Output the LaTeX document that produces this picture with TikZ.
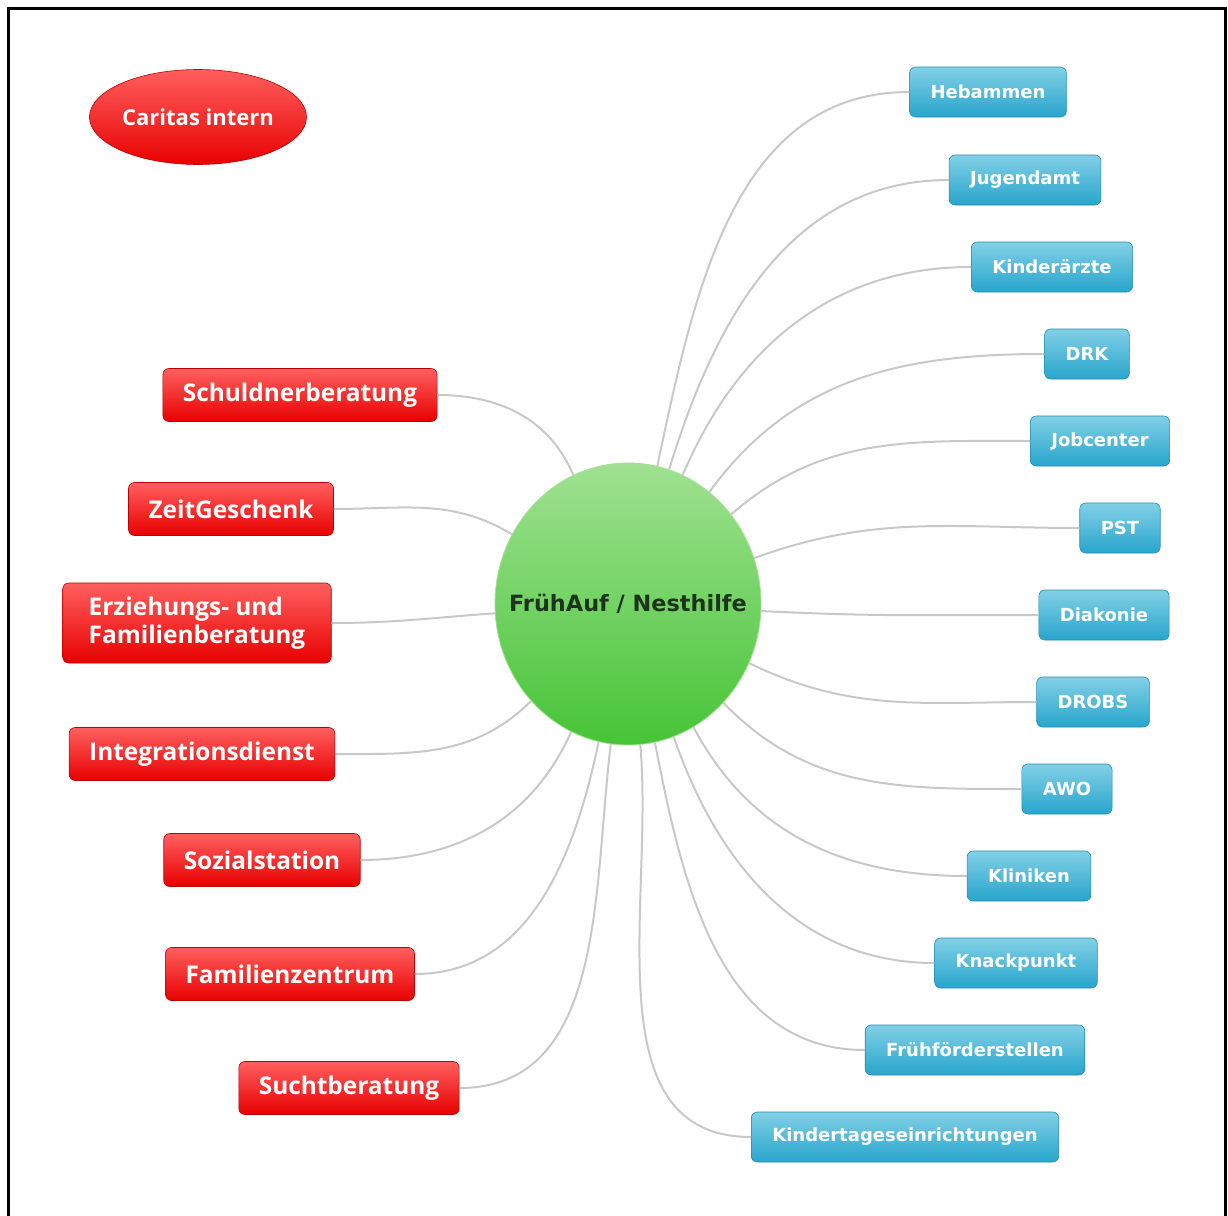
\documentclass[tikz,border=0pt]{standalone}
\usepackage{fontspec}
\usetikzlibrary{shapes.geometric}
\newfontfamily\bluefont{DejaVu Sans}
\newfontfamily\redfont{Open Sans}
\definecolor{linegray}{RGB}{200,200,200}
\definecolor{redtop}{RGB}{255,95,95}
\definecolor{redmid}{RGB}{250,10,10}
\definecolor{redbot}{RGB}{232,0,0}
\definecolor{bluetop}{RGB}{130,208,230}
\definecolor{bluemid}{RGB}{62,180,214}
\definecolor{bluebot}{RGB}{40,165,204}
\definecolor{greentop}{RGB}{160,225,145}
\definecolor{greenmid}{RGB}{88,204,70}
\definecolor{greenbot}{RGB}{70,196,55}
\definecolor{centertext}{RGB}{28,52,28}
\tikzset{
  redbox/.style={rectangle,rounded corners=3pt,top color=redtop,middle color=redmid,
    bottom color=redbot,draw=redbot!80!black,line width=0.3pt,text=white,
    font=\redfont\bfseries\fontsize{12.2}{14}\selectfont,
    inner xsep=10pt,minimum height=26.5pt,align=left},
  bluebox/.style={rectangle,rounded corners=3pt,top color=bluetop,middle color=bluemid,
    bottom color=bluebot,draw=bluebot!85!black,line width=0.3pt,text=white,
    font=\bluefont\bfseries\fontsize{9}{11}\selectfont,
    inner xsep=10.5pt,minimum height=25pt},
  hub/.style={ellipse,minimum width=133pt,minimum height=141pt,inner xsep=-30pt,inner ysep=0pt,
    top color=greentop,middle color=greenmid,bottom color=greenbot,
    draw=greentop,line width=0.4pt,text=centertext,
    font=\bluefont\bfseries\fontsize{11.2}{13}\selectfont},
  conn/.style={draw=linegray,line width=1pt}
}
\begin{document}
\begin{tikzpicture}[x=0.5pt,y=-0.5pt]
\useasboundingbox (0,0) rectangle (1228,1216);
\draw[line width=1.5pt] (8,1216) -- (8,8) -- (1225,8) -- (1225,1216);

\node(fa) at (628,604)[hub] {FrühAuf / Nesthilfe};
\node(caritas) at (198,117)[redbox,ellipse,minimum width=108.5pt,minimum height=47.5pt,
  inner sep=0pt,font=\redfont\bfseries\fontsize{11}{13}\selectfont] {Caritas intern};

% interne Dienste
\node(schuld) at (300,395)[redbox]  {Schuldnerberatung};
\node(zeit)   at (231,509)[redbox]  {ZeitGeschenk};
\node(erz)    at (197,623)[redbox,minimum height=40pt,inner xsep=13pt]
  {Erziehungs- und\\Familienberatung};
\node(integ)  at (202,754)[redbox]  {Integrationsdienst};
\node(sozial) at (262,860)[redbox]  {Sozialstation};
\node(famz)   at (290,974)[redbox]  {Familienzentrum};
\node(sucht)  at (349,1088)[redbox] {Suchtberatung};

% externe Partner
\node(heb)    at (988,92)[bluebox]    {Hebammen};
\node(jugend) at (1025,180)[bluebox]  {Jugendamt};
\node(kinder) at (1052,267)[bluebox]  {Kinderärzte};
\node(drk)    at (1087,354)[bluebox]  {DRK};
\node(job)    at (1100,441)[bluebox]  {Jobcenter};
\node(pst)    at (1120,528)[bluebox]  {PST};
\node(diak)   at (1104,615)[bluebox]  {Diakonie};
\node(drobs)  at (1093,702)[bluebox]  {DROBS};
\node(awo)    at (1067,789)[bluebox]  {AWO};
\node(klin)   at (1029,876)[bluebox]  {Kliniken};
\node(knack)  at (1016,963)[bluebox]  {Knackpunkt};
\node(ffs)    at (975,1050)[bluebox]  {Frühförderstellen};
\node(kita)   at (905,1137)[bluebox]  {Kindertageseinrichtungen};

\path [conn]
  (schuld.east) edge[out=0,in=113]   (fa.113)
  (zeit.east)   edge[out=0,in=149]   (fa.149)
  (erz.east)    edge[out=0,in=184]   (fa.184)
  (integ.east)  edge[out=0,in=225]   (fa.225)
  (sozial.east) edge[out=0,in=246]   (fa.246)
  (famz.east)   edge[out=0,in=258]   (fa.258)
  (sucht.east)  edge[out=0,in=263]   (fa.263);
\path [conn]
  (heb.west)    edge[out=180,in=78]  (fa.78)
  (jugend.west) edge[out=180,in=73]  (fa.73)
  (kinder.west) edge[out=180,in=67]  (fa.67)
  (drk.west)    edge[out=180,in=54]  (fa.54)
  (job.west)    edge[out=180,in=41]  (fa.41)
  (pst.west)    edge[out=180,in=20]  (fa.20)
  (diak.west)   edge[out=180,in=-3]  (fa.-3)
  (drobs.west)  edge[out=180,in=-26] (fa.-26)
  (awo.west)    edge[out=180,in=-46] (fa.-46)
  (klin.west)   edge[out=180,in=-62] (fa.-62)
  (knack.west)  edge[out=180,in=-71] (fa.-71)
  (ffs.west)    edge[out=180,in=-79] (fa.-79)
  (kita.west)   edge[out=180,in=-85] (fa.-85);
\end{tikzpicture}
\end{document}
